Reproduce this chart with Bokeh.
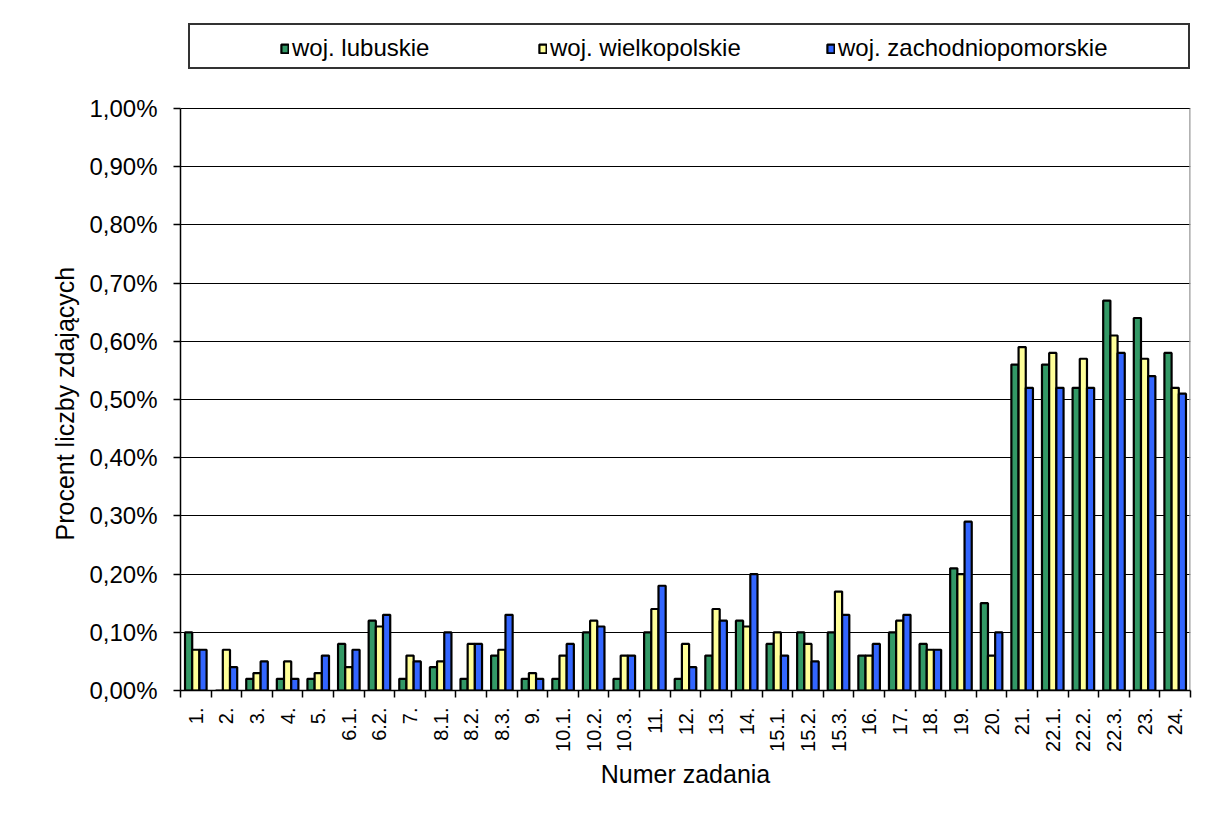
import math
from bokeh.plotting import figure
from bokeh.models import FixedTicker, Legend, LegendItem, ColumnDataSource, Range1d, Title
from bokeh.transform import dodge
from bokeh.embed import file_html
from bokeh.resources import INLINE

categories = ["1.", "2.", "3.", "4.", "5.", "6.1.", "6.2.", "7.", "8.1.", "8.2.", "8.3.",
              "9.", "10.1.", "10.2.", "10.3.", "11.", "12.", "13.", "14.", "15.1.", "15.2.",
              "15.3.", "16.", "17.", "18.", "19.", "20.", "21.", "22.1.", "22.2.", "22.3.",
              "23.", "24."]
lubuskie = [0.10, 0.00, 0.02, 0.02, 0.02, 0.08, 0.12, 0.02, 0.04, 0.02, 0.06,
            0.02, 0.02, 0.10, 0.02, 0.10, 0.02, 0.06, 0.12, 0.08, 0.10,
            0.10, 0.06, 0.10, 0.08, 0.21, 0.15, 0.56, 0.56, 0.52, 0.67,
            0.64, 0.58]
wielkopolskie = [0.07, 0.07, 0.03, 0.05, 0.03, 0.04, 0.11, 0.06, 0.05, 0.08, 0.07,
                 0.03, 0.06, 0.12, 0.06, 0.14, 0.08, 0.14, 0.11, 0.10, 0.08,
                 0.17, 0.06, 0.12, 0.07, 0.20, 0.06, 0.59, 0.58, 0.57, 0.61,
                 0.57, 0.52]
zachodniopomorskie = [0.07, 0.04, 0.05, 0.02, 0.06, 0.07, 0.13, 0.05, 0.10, 0.08, 0.13,
                      0.02, 0.08, 0.11, 0.06, 0.18, 0.04, 0.12, 0.20, 0.06, 0.05,
                      0.13, 0.08, 0.13, 0.07, 0.29, 0.10, 0.52, 0.52, 0.52, 0.58,
                      0.54, 0.51]
series_names = ["woj. lubuskie", "woj. wielkopolskie", "woj. zachodniopomorskie"]
series_colors = ["#339966", "#FFFF99", "#3366FF"]
y_ticks = [0.0, 0.1, 0.2, 0.3, 0.4, 0.5, 0.6, 0.7, 0.8, 0.9, 1.0]
y_tick_labels = ["0,00%", "0,10%", "0,20%", "0,30%", "0,40%", "0,50%",
                 "0,60%", "0,70%", "0,80%", "0,90%", "1,00%"]
x_title = "Numer zadania"
y_title = "Procent liczby zdających"

FONT = "Liberation Sans"
n = len(categories)
xs = list(range(1, n + 1))
source = ColumnDataSource(dict(x=xs, cat=categories, s0=lubuskie, s1=wielkopolskie,
                               s2=zachodniopomorskie))

# frame spans from y=20 to y=690 (px); the value axis 0..1.0 covers the lower 582 px,
# the space above is kept for the legend box
FRAME_TOP, FRAME_BOTTOM, AXIS_TOP = 20, 690, 108
y_max = y_ticks[-1] * (FRAME_BOTTOM - FRAME_TOP) / (FRAME_BOTTOM - AXIS_TOP)

p = figure(width=1206, height=819, x_range=Range1d(0.5, n + 0.5),
           y_range=Range1d(0, y_max),
           output_backend="svg", toolbar_location=None,
           min_border_left=180, min_border_right=16, min_border_top=FRAME_TOP,
           min_border_bottom=819 - FRAME_BOTTOM)
p.background_fill_color = "white"
p.border_fill_color = "white"
p.outline_line_color = None

bw = 0.235
renderers = []
for i, (key, color) in enumerate(zip(["s0", "s1", "s2"], series_colors)):
    r = p.vbar(x=dodge("x", (i - 1) * bw, range=p.x_range), top=key, width=bw,
               source=source, fill_color=color, line_color="black", line_width=2.2)
    renderers.append(r)

# right edge of the plot area (grey)
p.segment(x0=[n + 0.5], y0=[y_ticks[0]], x1=[n + 0.5], y1=[y_ticks[-1]],
          line_color="#999999", line_width=2.5)

# axes
xa = p.xaxis[0]
xa.ticker = FixedTicker(ticks=xs, minor_ticks=[v + 0.5 for v in range(0, n + 1)])
xa.major_label_overrides = {v: c for v, c in zip(xs, categories)}
xa.major_label_orientation = math.pi / 2
xa.major_tick_line_color = None
xa.major_tick_in = 0
xa.major_tick_out = 0
xa.minor_tick_in = 0
xa.minor_tick_out = 7
xa.minor_tick_line_color = "black"
xa.minor_tick_line_width = 1.5
xa.axis_line_color = "black"
xa.axis_line_width = 1.5
xa.major_label_standoff = 10
xa.major_label_text_font = FONT
xa.major_label_text_font_size = "20px"
xa.major_label_text_color = "black"
xa.axis_label = x_title
xa.axis_label_text_font = FONT
xa.axis_label_text_font_size = "25px"
xa.axis_label_text_font_style = "normal"
xa.axis_label_text_color = "black"
xa.axis_label_standoff = 5

ya = p.yaxis[0]
ya.ticker = FixedTicker(ticks=y_ticks)
ya.bounds = (y_ticks[0], y_ticks[-1])
ya.major_label_overrides = {v: l for v, l in zip(y_ticks, y_tick_labels)}
ya.major_tick_in = 0
ya.major_tick_out = 7
ya.major_tick_line_color = "black"
ya.major_tick_line_width = 1.5
ya.minor_tick_line_color = None
ya.axis_line_color = "black"
ya.axis_line_width = 1.5
ya.major_label_standoff = 16
ya.major_label_text_font = FONT
ya.major_label_text_font_size = "24px"
ya.major_label_text_color = "black"

# y-axis title, centred on the 0..1.0 part of the frame (offset from the frame bottom)
ytitle = Title(text=y_title, align="left", offset=150, standoff=16,
               text_font=FONT, text_font_size="25px", text_font_style="normal",
               text_color="black")
p.add_layout(ytitle, "left")

p.xgrid.grid_line_color = None
p.ygrid.ticker = FixedTicker(ticks=y_ticks)
p.ygrid.grid_line_color = "black"
p.ygrid.grid_line_width = 1.2

# legend frame (box only)
dummy = p.vbar(x=[], top=[], width=0, fill_alpha=0, line_alpha=0)
frame_leg = Legend(items=[LegendItem(label=" ", renderers=[dummy])],
                   location=(8, 621), orientation="horizontal",
                   padding=0, margin=0, spacing=0,
                   glyph_width=998, glyph_height=42, label_standoff=0,
                   label_width=0, label_height=42,
                   label_text_font_size="1px",
                   border_line_color="#333333", border_line_width=2, border_line_alpha=1,
                   background_fill_color="white", background_fill_alpha=1)
p.add_layout(frame_leg, "center")

item_x = [100, 358, 646]
for name, r, lx in zip(series_names, renderers, item_x):
    lg = Legend(items=[LegendItem(label=name, renderers=[r])],
                location=(lx, 628), orientation="horizontal",
                padding=0, margin=0, spacing=0,
                glyph_width=9, glyph_height=11, label_standoff=3,
                label_height=28,
                label_text_font=FONT, label_text_font_size="24px",
                label_text_color="black",
                border_line_alpha=0, background_fill_alpha=0)
    p.add_layout(lg, "center")

open("out.html", "w").write(file_html(p, INLINE))
